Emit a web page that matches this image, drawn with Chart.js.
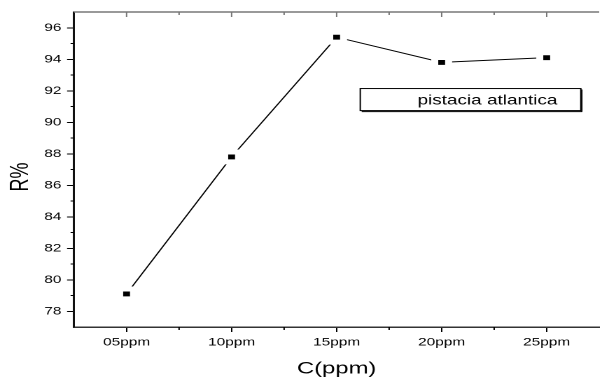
<!DOCTYPE html>
<html>
<head>
<meta charset="utf-8">
<script src="https://cdn.jsdelivr.net/npm/chart.js@4"></script>
<style>
  html, body { margin: 0; padding: 0; background: #fff; overflow: hidden; width: 600px; height: 378px; }
  /* the reference is stretched horizontally, so the chart is drawn narrow and scaled */
  #wrap { width: 440px; height: 378px; transform: scaleX(1.4); transform-origin: 0 0; }
</style>
</head>
<body>
<div id="wrap"><canvas id="chart" width="440" height="378"></canvas></div>
<script>
// --- data ---
const categories = ['05ppm', '10ppm', '15ppm', '20ppm', '25ppm'];
const rValues = [79.1, 87.8, 95.4, 93.8, 94.1];
const yTicks = [78, 80, 82, 84, 86, 88, 90, 92, 94, 96];
const yMinorTicks = [79, 81, 83, 85, 87, 89, 91, 93, 95];
const seriesLabel = 'pistacia atlantica';

const FONT = "'Liberation Sans', Arial, sans-serif";

// minor ticks, top axis and the boxed legend
const framePlugin = {
  id: 'frame',
  afterDraw(chart) {
    const ctx = chart.ctx;
    const area = chart.chartArea;
    const xs = chart.scales.x, ys = chart.scales.y;
    ctx.save();

    // top axis line with inward ticks
    ctx.strokeStyle = '#777';
    ctx.lineWidth = 1.5;
    ctx.beginPath();
    ctx.moveTo(area.left, area.top);
    ctx.lineTo(area.right, area.top);
    ctx.stroke();
    ctx.lineWidth = 1;
    ctx.beginPath();
    categories.forEach((c, i) => {
      const px = xs.getPixelForValue(i);
      ctx.moveTo(px, area.top); ctx.lineTo(px, area.top + 5);
      if (i < categories.length - 1) {
        const mx = (px + xs.getPixelForValue(i + 1)) / 2;
        ctx.moveTo(mx, area.top); ctx.lineTo(mx, area.top + 3);
      }
    });
    ctx.stroke();

    // bottom minor ticks
    ctx.strokeStyle = '#000';
    ctx.beginPath();
    for (let i = 0; i < categories.length - 1; i++) {
      const mx = (xs.getPixelForValue(i) + xs.getPixelForValue(i + 1)) / 2;
      ctx.moveTo(mx, area.bottom); ctx.lineTo(mx, area.bottom + 3);
    }
    ctx.stroke();

    // left minor ticks
    ctx.beginPath();
    yMinorTicks.forEach(v => {
      const py = ys.getPixelForValue(v);
      ctx.moveTo(area.left, py); ctx.lineTo(area.left - 2.5, py);
    });
    ctx.stroke();

    // legend box
    const w = area.right - area.left, h = area.bottom - area.top;
    const bx = area.left + 0.545 * w, by = area.top + 0.243 * h;
    const bw = 0.42 * w, bh = 0.07 * h;
    ctx.strokeStyle = '#000';
    ctx.lineWidth = 1;
    ctx.strokeRect(bx, by, bw, bh);
    ctx.beginPath();
    ctx.moveTo(bx + bw + 0.7, by + 1); ctx.lineTo(bx + bw + 0.7, by + bh + 1);
    ctx.moveTo(bx + 1, by + bh + 1); ctx.lineTo(bx + bw + 1, by + bh + 1);
    ctx.stroke();
    ctx.fillStyle = '#000';
    ctx.font = '13.5px ' + FONT;
    ctx.textBaseline = 'middle';
    ctx.textAlign = 'left';
    ctx.fillText(seriesLabel, bx + 0.26 * bw, by + bh / 2 + 1);

    ctx.restore();
  }
};

new Chart(document.getElementById('chart'), {
  type: 'line',
  data: {
    labels: categories,
    datasets: [{
      label: seriesLabel,
      data: rValues,
      borderColor: '#000',
      borderWidth: 1,
      tension: 0,
      fill: false,
      pointStyle: 'rect',
      pointRadius: 7,
      pointBackgroundColor: '#000',
      pointBorderColor: '#fff',
      pointBorderWidth: 5,
    }]
  },
  options: {
    responsive: false,
    animation: false,
    devicePixelRatio: 2,
    layout: { padding: { top: 12, right: 5, left: 0, bottom: 0 } },
    plugins: { legend: { display: false }, tooltip: { enabled: false } },
    scales: {
      x: {
        type: 'category',
        offset: true,
        afterFit: s => { s.height = 51; },
        grid: { display: true, drawOnChartArea: false, drawTicks: true, tickLength: 5, color: '#000', lineWidth: 1 },
        border: { display: true, color: '#333', width: 1.5 },
        ticks: { color: '#000', padding: 4, maxRotation: 0, font: { family: FONT, size: 11 } },
        title: { display: true, text: 'C(ppm)', color: '#000', font: { family: FONT, size: 17, lineHeight: 1 }, padding: { top: 0, bottom: 0.5 } }
      },
      y: {
        min: 77,
        max: 97,
        afterFit: s => { s.width = 52.9; },
        afterBuildTicks: s => { s.ticks = yTicks.map(v => ({ value: v })); },
        grid: { display: true, drawOnChartArea: false, drawTicks: true, tickLength: 5, color: '#000', lineWidth: 1 },
        border: { display: true, color: '#111', width: 1.5 },
        ticks: { color: '#000', padding: 4, font: { family: FONT, size: 11 } },
        title: { display: true, text: 'R%   ', color: '#000', font: { family: FONT, size: 18, lineHeight: 1 }, padding: { top: 6, bottom: 0 } }
      }
    }
  },
  plugins: [framePlugin]
});
</script>
</body>
</html>
